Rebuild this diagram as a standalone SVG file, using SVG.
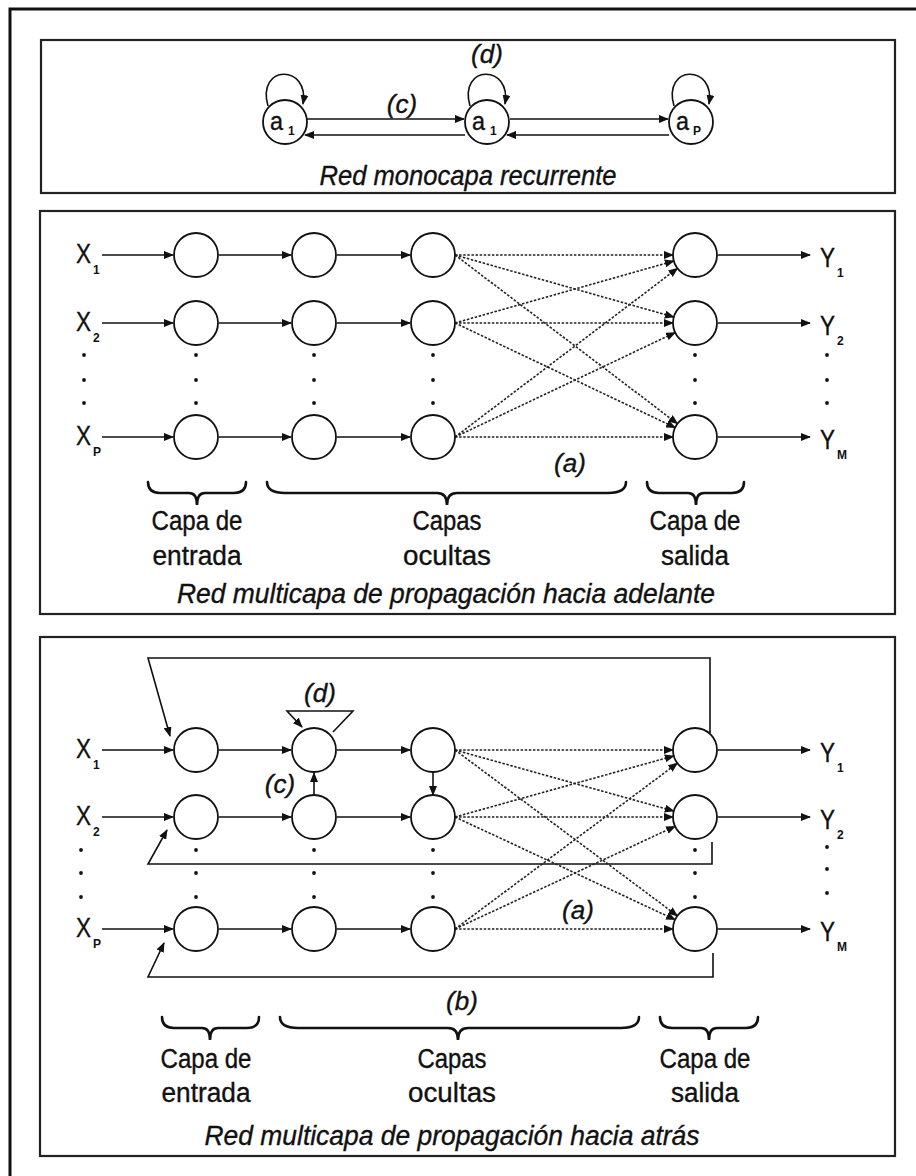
<svg xmlns="http://www.w3.org/2000/svg" width="916" height="1176" viewBox="0 0 916 1176">
<style>
.frame{fill:none;stroke:#111;stroke-width:3}
.panel{fill:none;stroke:#222;stroke-width:2.2}
.node{fill:#fff;stroke:#111;stroke-width:1.8}
.ln{fill:none;stroke:#111;stroke-width:1.6}
.dash{fill:none;stroke:#222;stroke-width:1.6;stroke-dasharray:2.5,1.6}
.brace{fill:none;stroke:#111;stroke-width:2.6;stroke-linecap:round}
.dot{fill:#111}
text{font-family:"Liberation Sans",Arial,sans-serif;fill:#111;stroke:#111;stroke-width:0.35}
.lab{font-size:27px}
.alab{font-size:25px}
.sub{font-size:12px;font-weight:bold;stroke-width:0}
.it{font-style:italic;font-size:26px}
.cap{font-size:27px;text-anchor:middle}
.title{font-style:italic;font-size:27px;text-anchor:middle}
</style>
<defs>
<marker id="ah" markerWidth="10" markerHeight="8" refX="9" refY="4" orient="auto" markerUnits="userSpaceOnUse"><path d="M0,0 L10,4 L0,8 z" fill="#111"/></marker>
</defs>
<rect width="916" height="1176" fill="#fff"/>
<path class="frame" d="M10,1180 V9 H920"/>

<!-- Panel 1 -->
<g id="panel1">
<rect class="panel" x="41" y="40" width="854" height="153"/>
<text class="title" x="468" y="185" textLength="297" lengthAdjust="spacingAndGlyphs">Red monocapa recurrente</text>
<text class="it" x="402" y="113" text-anchor="middle">(c)</text>
<text class="it" x="487" y="63" text-anchor="middle">(d)</text>
</g>
<g id="p1-connectors">
<path class="ln" d="M268,106 C256,64 310,64 303,104" marker-end="url(#ah)"/>
<path class="ln" d="M470,106 C458,64 512,64 505,104" marker-end="url(#ah)"/>
<path class="ln" d="M674,106 C662,64 716,64 709,104" marker-end="url(#ah)"/>
<path class="ln" d="M307,119 H464" marker-end="url(#ah)"/>
<path class="ln" d="M465,135 H305" marker-end="url(#ah)"/>
<path class="ln" d="M510,119 H668" marker-end="url(#ah)"/>
<path class="ln" d="M669,135 H507" marker-end="url(#ah)"/>
</g>
<g id="p1-a1"><circle class="node" cx="285" cy="122" r="22"/><text class="alab" x="270" y="130" textLength="13" lengthAdjust="spacingAndGlyphs">a</text><text class="sub" x="288" y="135">1</text></g>
<g id="p1-a2"><circle class="node" cx="487" cy="122" r="22"/><text class="alab" x="472" y="130" textLength="13" lengthAdjust="spacingAndGlyphs">a</text><text class="sub" x="490" y="135">1</text></g>
<g id="p1-aP"><circle class="node" cx="691" cy="122" r="22"/><text class="alab" x="676" y="130" textLength="13" lengthAdjust="spacingAndGlyphs">a</text><text class="sub" x="693" y="135">P</text></g>

<!-- Panel 2 -->
<g id="panel2">
<rect class="panel" x="40" y="211" width="855" height="403"/>
<text class="lab" x="76" y="263" textLength="15" lengthAdjust="spacingAndGlyphs">X</text><text class="sub" x="93" y="274">1</text>
<text class="lab" x="76" y="331" textLength="15" lengthAdjust="spacingAndGlyphs">X</text><text class="sub" x="93" y="342">2</text>
<text class="lab" x="76" y="445" textLength="15" lengthAdjust="spacingAndGlyphs">X</text><text class="sub" x="93" y="456">P</text>
<text class="lab" x="820" y="267" textLength="15" lengthAdjust="spacingAndGlyphs">Y</text><text class="sub" x="837" y="277">1</text>
<text class="lab" x="820" y="335" textLength="15" lengthAdjust="spacingAndGlyphs">Y</text><text class="sub" x="837" y="345">2</text>
<text class="lab" x="820" y="449" textLength="15" lengthAdjust="spacingAndGlyphs">Y</text><text class="sub" x="837" y="459">M</text>
<g class="dot">
<circle cx="84" cy="355" r="1.9"/><circle cx="84" cy="380" r="1.9"/><circle cx="84" cy="403" r="1.9"/>
<circle cx="196" cy="355" r="1.9"/><circle cx="196" cy="380" r="1.9"/><circle cx="196" cy="403" r="1.9"/>
<circle cx="314" cy="355" r="1.9"/><circle cx="314" cy="380" r="1.9"/><circle cx="314" cy="403" r="1.9"/>
<circle cx="433" cy="355" r="1.9"/><circle cx="433" cy="380" r="1.9"/><circle cx="433" cy="403" r="1.9"/>
<circle cx="695" cy="355" r="1.9"/><circle cx="695" cy="380" r="1.9"/><circle cx="695" cy="403" r="1.9"/>
<circle cx="827" cy="355" r="1.9"/><circle cx="827" cy="380" r="1.9"/><circle cx="827" cy="403" r="1.9"/>
</g>
<text class="it" x="570" y="472" text-anchor="middle">(a)</text>
<path class="brace" d="M148,482 Q148,493 160,493 L189,493 Q197,493 197,505 Q197,493 205,493 L234,493 Q246,493 246,482"/>
<path class="brace" d="M267,482 Q267,493 285,493 L437,493 Q447,493 447,505 Q447,493 457,493 L608,493 Q626,493 626,482"/>
<path class="brace" d="M647,482 Q647,493 659,493 L688,493 Q696,493 696,505 Q696,493 704,493 L732,493 Q744,493 744,482"/>
<text class="cap" x="197" y="530" textLength="91" lengthAdjust="spacingAndGlyphs">Capa de</text>
<text class="cap" x="197" y="565" textLength="89" lengthAdjust="spacingAndGlyphs">entrada</text>
<text class="cap" x="447" y="530" textLength="69" lengthAdjust="spacingAndGlyphs">Capas</text>
<text class="cap" x="447" y="565" textLength="88" lengthAdjust="spacingAndGlyphs">ocultas</text>
<text class="cap" x="695" y="530" textLength="91" lengthAdjust="spacingAndGlyphs">Capa de</text>
<text class="cap" x="695" y="565" textLength="68" lengthAdjust="spacingAndGlyphs">salida</text>
<text class="title" x="446" y="603" textLength="538" lengthAdjust="spacingAndGlyphs">Red multicapa de propagación hacia adelante</text>
</g>
<g id="p2-connectors">
<path class="ln" d="M102,255 H173" marker-end="url(#ah)"/><path class="ln" d="M219,255 H291" marker-end="url(#ah)"/><path class="ln" d="M337,255 H410" marker-end="url(#ah)"/><path class="ln" d="M718,255 H810" marker-end="url(#ah)"/>
<path class="ln" d="M102,323 H173" marker-end="url(#ah)"/><path class="ln" d="M219,323 H291" marker-end="url(#ah)"/><path class="ln" d="M337,323 H410" marker-end="url(#ah)"/><path class="ln" d="M718,323 H810" marker-end="url(#ah)"/>
<path class="ln" d="M102,437 H173" marker-end="url(#ah)"/><path class="ln" d="M219,437 H291" marker-end="url(#ah)"/><path class="ln" d="M337,437 H410" marker-end="url(#ah)"/><path class="ln" d="M718,437 H810" marker-end="url(#ah)"/>
<path class="dash" d="M455,255 L673,255" marker-end="url(#ah)"/>
<path class="dash" d="M455,255 L673.8,317" marker-end="url(#ah)"/>
<path class="dash" d="M455,255 L677.5,423.7" marker-end="url(#ah)"/>
<path class="dash" d="M455,323 L673.8,261" marker-end="url(#ah)"/>
<path class="dash" d="M455,323 L673,323" marker-end="url(#ah)"/>
<path class="dash" d="M455,323 L675.1,427.6" marker-end="url(#ah)"/>
<path class="dash" d="M455,437 L677.5,268.3" marker-end="url(#ah)"/>
<path class="dash" d="M455,437 L675.1,332.6" marker-end="url(#ah)"/>
<path class="dash" d="M455,437 L673,437" marker-end="url(#ah)"/>
</g>
<g id="p2-nodes">
<g id="p2-n11"><circle class="node" cx="196" cy="255" r="22"/></g>
<g id="p2-n12"><circle class="node" cx="314" cy="255" r="22"/></g>
<g id="p2-n13"><circle class="node" cx="433" cy="255" r="22"/></g>
<g id="p2-n14"><circle class="node" cx="695" cy="255" r="22"/></g>
<g id="p2-n21"><circle class="node" cx="196" cy="323" r="22"/></g>
<g id="p2-n22"><circle class="node" cx="314" cy="323" r="22"/></g>
<g id="p2-n23"><circle class="node" cx="433" cy="323" r="22"/></g>
<g id="p2-n24"><circle class="node" cx="695" cy="323" r="22"/></g>
<g id="p2-n31"><circle class="node" cx="196" cy="437" r="22"/></g>
<g id="p2-n32"><circle class="node" cx="314" cy="437" r="22"/></g>
<g id="p2-n33"><circle class="node" cx="433" cy="437" r="22"/></g>
<g id="p2-n34"><circle class="node" cx="695" cy="437" r="22"/></g>
</g>

<!-- Panel 3 -->
<g id="panel3">
<rect class="panel" x="40" y="637" width="855" height="519"/>
<text class="lab" x="76" y="758" textLength="15" lengthAdjust="spacingAndGlyphs">X</text><text class="sub" x="93" y="769">1</text>
<text class="lab" x="76" y="825" textLength="15" lengthAdjust="spacingAndGlyphs">X</text><text class="sub" x="93" y="836">2</text>
<text class="lab" x="76" y="937" textLength="15" lengthAdjust="spacingAndGlyphs">X</text><text class="sub" x="93" y="948">P</text>
<text class="lab" x="820" y="762" textLength="15" lengthAdjust="spacingAndGlyphs">Y</text><text class="sub" x="837" y="772">1</text>
<text class="lab" x="820" y="829" textLength="15" lengthAdjust="spacingAndGlyphs">Y</text><text class="sub" x="837" y="839">2</text>
<text class="lab" x="820" y="941" textLength="15" lengthAdjust="spacingAndGlyphs">Y</text><text class="sub" x="837" y="951">M</text>
<g class="dot">
<circle cx="81" cy="850" r="1.9"/><circle cx="81" cy="873" r="1.9"/><circle cx="81" cy="897" r="1.9"/>
<circle cx="196" cy="850" r="1.9"/><circle cx="196" cy="873" r="1.9"/><circle cx="196" cy="897" r="1.9"/>
<circle cx="314" cy="850" r="1.9"/><circle cx="314" cy="873" r="1.9"/><circle cx="314" cy="897" r="1.9"/>
<circle cx="433" cy="850" r="1.9"/><circle cx="433" cy="873" r="1.9"/><circle cx="433" cy="897" r="1.9"/>
<circle cx="695" cy="850" r="1.9"/><circle cx="695" cy="873" r="1.9"/><circle cx="695" cy="897" r="1.9"/>
<circle cx="827" cy="847" r="1.9"/><circle cx="827" cy="869" r="1.9"/><circle cx="827" cy="893" r="1.9"/>
</g>
<text class="it" x="320" y="702" text-anchor="middle">(d)</text>
<text class="it" x="280" y="793" text-anchor="middle">(c)</text>
<text class="it" x="578" y="919" text-anchor="middle">(a)</text>
<text class="it" x="462" y="1010" text-anchor="middle">(b)</text>
<path class="brace" d="M162,1017 Q162,1028 174,1028 L202,1028 Q210,1028 210,1040 Q210,1028 218,1028 L247,1028 Q259,1028 259,1017"/>
<path class="brace" d="M280,1017 Q280,1028 298,1028 L448,1028 Q458,1028 458,1040 Q458,1028 468,1028 L621,1028 Q639,1028 639,1017"/>
<path class="brace" d="M660,1017 Q660,1028 672,1028 L701,1028 Q709,1028 709,1040 Q709,1028 717,1028 L746,1028 Q758,1028 758,1017"/>
<text class="cap" x="206" y="1068" textLength="91" lengthAdjust="spacingAndGlyphs">Capa de</text>
<text class="cap" x="206" y="1102" textLength="89" lengthAdjust="spacingAndGlyphs">entrada</text>
<text class="cap" x="452" y="1068" textLength="69" lengthAdjust="spacingAndGlyphs">Capas</text>
<text class="cap" x="452" y="1102" textLength="88" lengthAdjust="spacingAndGlyphs">ocultas</text>
<text class="cap" x="705" y="1068" textLength="91" lengthAdjust="spacingAndGlyphs">Capa de</text>
<text class="cap" x="705" y="1102" textLength="68" lengthAdjust="spacingAndGlyphs">salida</text>
<text class="title" x="452" y="1145" textLength="495" lengthAdjust="spacingAndGlyphs">Red multicapa de propagación hacia atrás</text>
</g>
<g id="p3-connectors">
<path class="ln" d="M102,750 H173" marker-end="url(#ah)"/><path class="ln" d="M219,750 H291" marker-end="url(#ah)"/><path class="ln" d="M337,750 H410" marker-end="url(#ah)"/><path class="ln" d="M718,750 H810" marker-end="url(#ah)"/>
<path class="ln" d="M102,817 H173" marker-end="url(#ah)"/><path class="ln" d="M219,817 H291" marker-end="url(#ah)"/><path class="ln" d="M337,817 H410" marker-end="url(#ah)"/><path class="ln" d="M718,817 H810" marker-end="url(#ah)"/>
<path class="ln" d="M102,929 H173" marker-end="url(#ah)"/><path class="ln" d="M219,929 H291" marker-end="url(#ah)"/><path class="ln" d="M337,929 H410" marker-end="url(#ah)"/><path class="ln" d="M718,929 H810" marker-end="url(#ah)"/>
<path class="ln" d="M710,733 V658 H148 L170,736" marker-end="url(#ah)"/>
<path class="ln" d="M712,842 V864 H148 L167,830" marker-end="url(#ah)"/>
<path class="ln" d="M713,953 V977 H148 L164,943" marker-end="url(#ah)"/>
<path class="ln" d="M333,732 L353,711 H287 L302,727" marker-end="url(#ah)"/>
<path class="ln" d="M314,795 V773" marker-end="url(#ah)"/>
<path class="ln" d="M433,772 V795" marker-end="url(#ah)"/>
<path class="dash" d="M455,750 L673,750" marker-end="url(#ah)"/>
<path class="dash" d="M455,750 L673.8,811.1" marker-end="url(#ah)"/>
<path class="dash" d="M455,750 L677.4,915.8" marker-end="url(#ah)"/>
<path class="dash" d="M455,817 L673.8,755.9" marker-end="url(#ah)"/>
<path class="dash" d="M455,817 L673,817" marker-end="url(#ah)"/>
<path class="dash" d="M455,817 L675.1,919.7" marker-end="url(#ah)"/>
<path class="dash" d="M455,929 L677.4,763.2" marker-end="url(#ah)"/>
<path class="dash" d="M455,929 L675.1,826.3" marker-end="url(#ah)"/>
<path class="dash" d="M455,929 L673,929" marker-end="url(#ah)"/>
</g>
<g id="p3-nodes">
<g id="p3-n11"><circle class="node" cx="196" cy="750" r="22"/></g>
<g id="p3-n12"><circle class="node" cx="314" cy="750" r="22"/></g>
<g id="p3-n13"><circle class="node" cx="433" cy="750" r="22"/></g>
<g id="p3-n14"><circle class="node" cx="695" cy="750" r="22"/></g>
<g id="p3-n21"><circle class="node" cx="196" cy="817" r="22"/></g>
<g id="p3-n22"><circle class="node" cx="314" cy="817" r="22"/></g>
<g id="p3-n23"><circle class="node" cx="433" cy="817" r="22"/></g>
<g id="p3-n24"><circle class="node" cx="695" cy="817" r="22"/></g>
<g id="p3-n31"><circle class="node" cx="196" cy="929" r="22"/></g>
<g id="p3-n32"><circle class="node" cx="314" cy="929" r="22"/></g>
<g id="p3-n33"><circle class="node" cx="433" cy="929" r="22"/></g>
<g id="p3-n34"><circle class="node" cx="695" cy="929" r="22"/></g>
</g>
</svg>
